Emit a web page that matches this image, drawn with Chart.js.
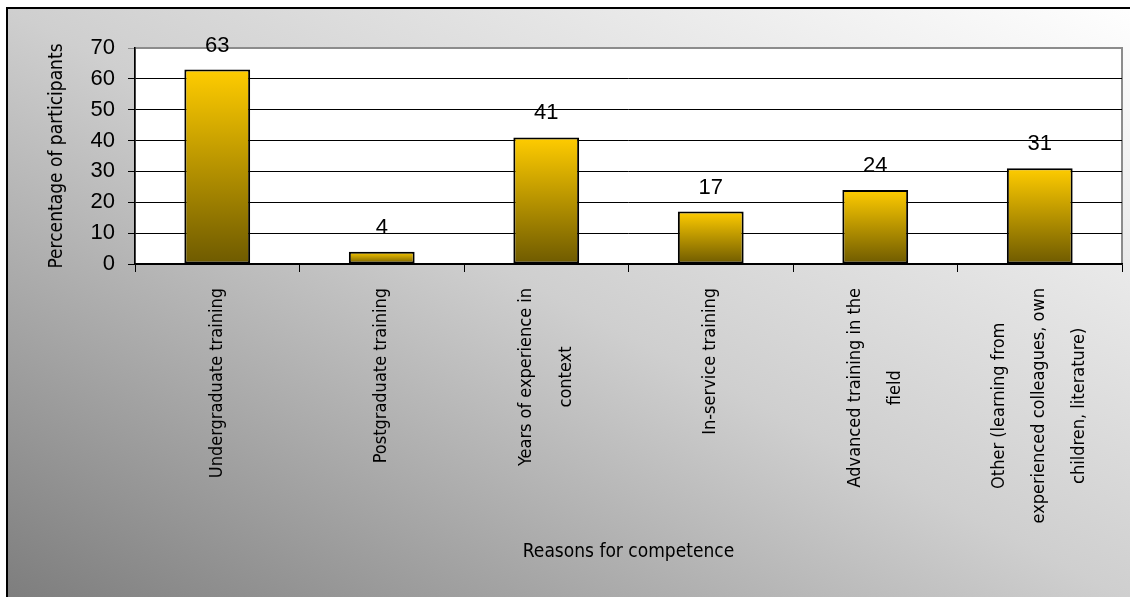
<!DOCTYPE html>
<html>
<head>
<meta charset="utf-8">
<script src="https://cdn.jsdelivr.net/npm/chart.js@4.4.1/dist/chart.umd.min.js"></script>
<style>
  body { margin: 0; background: #fff; }
  canvas { display: block; }
</style>
</head>
<body>
<canvas id="myChart" width="1130" height="597"></canvas>
<script>
const categories = [
  ["Undergraduate training"],
  ["Postgraduate training"],
  ["Years of experience in", "context"],
  ["In-service training"],
  ["Advanced training in the", "field"],
  ["Other (learning from", "experienced colleagues, own", "children, literature)"],
]
const percentages = [63, 4, 41, 17, 24, 31]
const yTicks = [0, 10, 20, 30, 40, 50, 60, 70]

const narrow = "'Liberation Sans Narrow', 'DejaVu Sans Condensed', sans-serif"
const arial = "'Liberation Sans', Arial, sans-serif"

// grey diagonal backdrop, black frame, white plot area
const backdrop = {
  id: "backdrop",
  beforeDraw(chart) {
    const ctx = chart.ctx
    const a = chart.chartArea
    ctx.save()
    ctx.translate(8, 9)
    ctx.scale(1140, 600)
    const g = ctx.createLinearGradient(0, 1, 1, 0)
    g.addColorStop(0, "#7c7c7c")
    g.addColorStop(0.5, "#cfcfcf")
    g.addColorStop(1, "#ffffff")
    ctx.fillStyle = g
    ctx.fillRect(0, 0, 1, 1)
    ctx.restore()

    ctx.save()
    ctx.strokeStyle = "#000"
    ctx.lineWidth = 2
    ctx.strokeRect(7, 8, 1150, 620)
    ctx.fillStyle = "#fff"
    ctx.fillRect(a.left, a.top, a.right - a.left, a.bottom - a.top)
    ctx.strokeStyle = "#8c8c8c"
    ctx.lineWidth = 2
    ctx.strokeRect(a.left, a.top, a.right - a.left, a.bottom - a.top)
    ctx.restore()
  },
}

// values above the bars
const valueLabels = {
  id: "valueLabels",
  afterDatasetsDraw(chart) {
    const ctx = chart.ctx
    const meta = chart.getDatasetMeta(0)
    ctx.save()
    ctx.font = "22px " + arial
    ctx.fillStyle = "#000"
    ctx.textAlign = "center"
    ctx.textBaseline = "alphabetic"
    meta.data.forEach((bar, i) => {
      ctx.fillText(String(percentages[i]), bar.x, bar.y - 18)
    })
    ctx.restore()
  },
}

// rotated, centred multi-line category labels
const categoryLabels = {
  id: "categoryLabels",
  afterDraw(chart) {
    const ctx = chart.ctx
    const xs = chart.scales.x
    const lh = 40
    ctx.save()
    ctx.font = "18px " + narrow
    ctx.fillStyle = "#000"
    ctx.textAlign = "center"
    ctx.textBaseline = "middle"
    categories.forEach((lines, i) => {
      const x = xs.getPixelForValue(i)
      const w = Math.max(...lines.map((l) => ctx.measureText(l).width))
      const top = xs.top + 24
      lines.forEach((line, j) => {
        const cx = x + (j - (lines.length - 1) / 2) * lh
        ctx.save()
        ctx.translate(cx, top + w / 2)
        ctx.rotate(-Math.PI / 2)
        ctx.fillText(line, 0, 0)
        ctx.restore()
      })
    })
    ctx.restore()
  },
}

function barFill(c) {
  const chart = c.chart
  const y = chart.scales.y
  if (!chart.chartArea || !y || c.dataIndex === undefined) return "#ccaa00"
  const top = y.getPixelForValue(percentages[c.dataIndex])
  const base = y.getPixelForValue(0)
  if (base - top < 1) return "#ffcc00"
  const g = chart.ctx.createLinearGradient(0, top, 0, base)
  g.addColorStop(0, "#ffcc00")
  g.addColorStop(1, "#6e5a00")
  return g
}

const data = {
  labels: categories,
  datasets: [
    {
      label: "Percentage of participants",
      data: percentages,
      backgroundColor: barFill,
      borderColor: "#000",
      borderWidth: 2,
      borderSkipped: false,
      barPercentage: 0.4,
      categoryPercentage: 1,
    },
  ],
}

const config = {
  type: "bar",
  data: data,
  options: {
    responsive: false,
    animation: false,
    layout: { padding: { top: 48, right: 8, left: 0, bottom: 0 } },
    plugins: { legend: { display: false }, tooltip: { enabled: false } },
    scales: {
      x: {
        grid: { offset: true, drawOnChartArea: false, drawTicks: true, tickLength: 8, color: "#000" },
        border: { display: true, color: "#000", width: 1.5 },
        ticks: { display: false },
        title: {
          display: true,
          text: "Reasons for competence",
          color: "#000",
          font: { family: narrow, size: 19 },
          padding: { top: 0, bottom: 34 },
        },
        afterFit: (s) => { s.height = 333 },
      },
      y: {
        min: 0,
        max: 70,
        afterBuildTicks: (s) => { s.ticks = yTicks.map((v) => ({ value: v })) },
        ticks: { color: "#000", font: { family: arial, size: 22 }, padding: 13 },
        grid: {
          color: (c) => (c.tick && c.tick.value === 70 ? "#8c8c8c" : "#000"),
          lineWidth: 1,
          tickLength: 7,
        },
        border: { color: "#000", width: 1.5 },
        title: {
          display: true,
          text: "Percentage of participants",
          color: "#000",
          font: { family: narrow, size: 19 },
          padding: { top: 46, bottom: 0 },
        },
        afterFit: (s) => { s.width = 135 },
      },
    },
  },
  plugins: [backdrop, valueLabels, categoryLabels],
}

const myChart = new Chart(document.getElementById("myChart"), config)
</script>
</body>
</html>
